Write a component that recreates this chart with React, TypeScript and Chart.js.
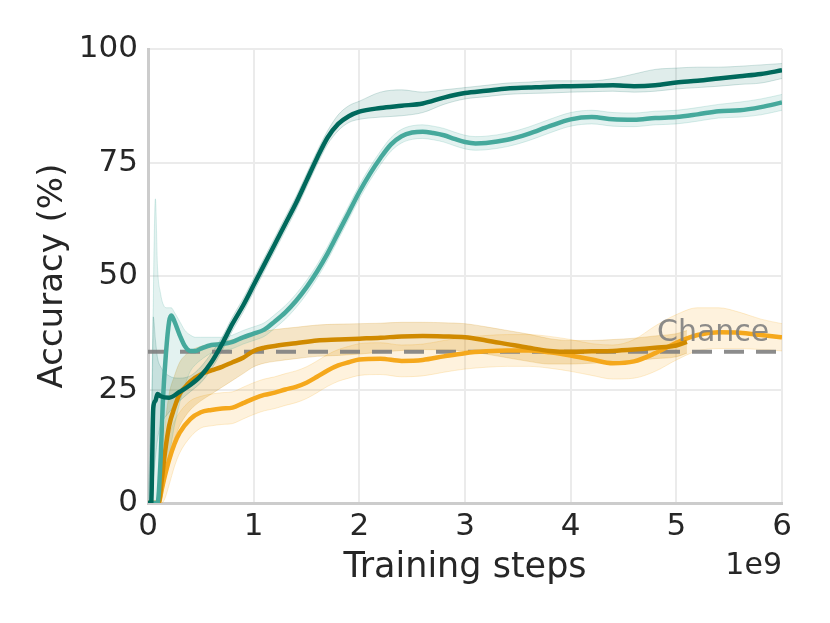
import React, { useEffect, useRef } from 'react';
import { Chart, ChartConfiguration, registerables } from 'chart.js';

Chart.register(...registerables);

// x values are training steps in units of 1e9
const tealDarkSteps = [0, 0.03, 0.05, 0.07, 0.09, 0.12, 0.2, 0.3, 0.4, 0.5, 0.6, 0.7, 0.8, 0.9, 1.0, 1.1, 1.2, 1.3, 1.4, 1.5, 1.6, 1.7, 1.8, 1.9, 2.0, 2.2, 2.4, 2.6, 2.8, 3.0, 3.2, 3.4, 3.6, 3.8, 4.0, 4.2, 4.4, 4.6, 4.8, 5.0, 5.2, 5.4, 5.6, 5.8, 6.0];
const tealDarkMean = [0, 0, 21, 22.5, 24, 23.5, 23.2, 24.5, 26, 28, 31, 35, 39.5, 43.5, 48, 52.5, 57, 61.5, 66, 71, 76, 80.5, 83.5, 85.2, 86.2, 87, 87.5, 88, 89.3, 90.3, 90.8, 91.3, 91.5, 91.7, 91.8, 91.9, 92, 91.8, 92, 92.6, 93, 93.5, 94, 94.5, 95.3];
const tealDarkLow = [0, 0, 5, 10, 14, 17, 20, 22.5, 24.5, 26.5, 29.5, 33.5, 38, 42, 46.5, 51, 55.5, 60, 64.5, 69.5, 74.5, 79, 82, 83.8, 84.5, 85, 85.3, 86, 87.8, 89, 89.5, 90, 90.2, 90.3, 90.5, 90.6, 90.7, 90.5, 90.7, 91.2, 91.5, 91.8, 92.2, 92.5, 93.5];
const tealDarkHigh = [0, 0, 41, 36, 32, 30, 28, 27.5, 28, 30, 33, 36.5, 41, 45, 49.5, 54, 58.5, 63, 67.5, 72.5, 77.5, 82, 85.5, 87.5, 88.5, 90.5, 91, 90.5, 91, 91.5, 92, 92.5, 92.7, 93, 93, 93, 93.5, 94.5, 95.5, 95.8, 96, 96, 96.2, 96.5, 96.8];

const tealLightSteps = [0, 0.04, 0.07, 0.09, 0.12, 0.14, 0.17, 0.2, 0.22, 0.25, 0.3, 0.35, 0.4, 0.45, 0.5, 0.6, 0.7, 0.8, 0.9, 1.0, 1.1, 1.2, 1.3, 1.4, 1.5, 1.6, 1.7, 1.8, 1.9, 2.0, 2.1, 2.2, 2.3, 2.4, 2.5, 2.6, 2.7, 2.8, 2.9, 3.0, 3.1, 3.2, 3.4, 3.6, 3.8, 4.0, 4.2, 4.4, 4.6, 4.8, 5.0, 5.2, 5.4, 5.6, 5.8, 6.0];
const tealLightMean = [0, 0, 0, 0, 10, 22, 33, 40, 41.3, 40, 37, 34.5, 33.5, 33.5, 34, 34.8, 35, 35.5, 36.5, 37.3, 38.2, 40, 42, 44.5, 47.5, 51, 55, 59.5, 64, 68.5, 72.5, 76, 79, 80.8, 81.6, 81.8, 81.5, 81, 80.2, 79.5, 79.2, 79.3, 80, 81.3, 83, 84.5, 85, 84.5, 84.4, 84.8, 85, 85.6, 86.3, 86.5, 87.2, 88.2];
const tealLightLow = [0, 0, 0, 0, 1, 3, 6, 10, 13, 17, 22, 26, 29, 30.5, 31.5, 33, 33.5, 34, 35, 35.8, 36.7, 38.5, 40.5, 43, 46, 49.5, 53.5, 58, 62.5, 67, 71, 74.5, 77.5, 79.3, 80.1, 80.3, 80, 79.5, 78.7, 78, 77.7, 77.8, 78.5, 79.8, 81.5, 83, 83.5, 83, 82.9, 83.3, 83.5, 84.1, 84.8, 85, 85.5, 86.5];
const tealLightHigh = [0, 30, 67, 52, 46, 44, 43, 43, 43, 42, 40, 38, 37, 36.5, 36.5, 36.5, 36.5, 37, 38, 38.8, 39.7, 41.5, 43.5, 46, 49, 52.5, 56.5, 61, 65.5, 70, 74, 77.5, 80.5, 82.3, 83.1, 83.3, 83, 82.5, 81.7, 81, 80.7, 80.8, 81.5, 82.8, 84.5, 86, 86.5, 86, 85.9, 86.3, 86.5, 87.1, 87.8, 88.3, 89, 90];

const orangeDarkSteps = [0, 0.1, 0.13, 0.16, 0.2, 0.25, 0.3, 0.35, 0.4, 0.5, 0.6, 0.7, 0.8, 0.9, 1.0, 1.1, 1.2, 1.4, 1.6, 1.8, 2.0, 2.2, 2.4, 2.6, 2.8, 3.0, 3.2, 3.4, 3.6, 3.8, 4.0, 4.2, 4.4, 4.6, 4.8, 5.0, 5.1];
const orangeDarkMean = [0, 0, 5, 11, 17, 21, 24, 25.5, 26.8, 28.3, 29.2, 30, 31, 32, 33.5, 34.2, 34.6, 35.2, 35.8, 36, 36.2, 36.4, 36.7, 36.8, 36.7, 36.5, 35.8, 35, 34.2, 33.5, 33.3, 33.4, 33.5, 33.8, 34.2, 34.7, 35.5];
const orangeDarkLow = [0, 0, 1, 5, 10, 14, 17, 19, 20.5, 22.5, 24, 25.5, 27, 28.5, 30, 30.8, 31.2, 31.8, 32.3, 32.5, 32.8, 33.2, 33.6, 33.8, 33.7, 33.5, 32.8, 32, 31.2, 30.6, 30.6, 30.8, 31, 31.4, 31.8, 32.2, 33];
const orangeDarkHigh = [0, 0, 9, 17, 24, 28, 31, 32.5, 33.5, 34.5, 35, 35.5, 36, 36.5, 37.3, 37.8, 38.2, 38.7, 39.2, 39.4, 39.5, 39.6, 39.8, 39.8, 39.7, 39.5, 38.8, 38, 37.2, 36.2, 35.8, 35.8, 36, 36.3, 36.8, 37.3, 38];

const orangeLightSteps = [0, 0.1, 0.13, 0.16, 0.2, 0.25, 0.3, 0.4, 0.5, 0.6, 0.7, 0.8, 0.9, 1.0, 1.1, 1.2, 1.3, 1.4, 1.5, 1.6, 1.7, 1.8, 1.9, 2.0, 2.2, 2.4, 2.6, 2.8, 3.0, 3.2, 3.4, 3.6, 3.8, 4.0, 4.2, 4.4, 4.6, 4.8, 5.0, 5.2, 5.4, 5.6, 5.8, 6.0];
const orangeLightMean = [0, 0, 3, 6, 9.5, 13, 15.5, 18.5, 20, 20.5, 20.8, 21, 22, 23, 23.8, 24.3, 25, 25.6, 26.5, 27.8, 29.2, 30.3, 31, 31.6, 31.8, 31.3, 31.5, 32.3, 33, 33.4, 33.6, 33.6, 33.2, 32.5, 31.6, 30.8, 31.2, 33, 35.3, 37, 37.6, 37.5, 37, 36.5];
const orangeLightLow = [0, 0, 0, 1, 4, 8, 11, 14.5, 16.5, 17, 17.3, 17.5, 18.5, 19.5, 20.3, 20.8, 21.5, 22.1, 23, 24.3, 25.7, 26.8, 27.5, 28.1, 28.3, 27.8, 28, 28.8, 29.5, 29.9, 30.1, 30.1, 29.7, 29, 28.1, 27.3, 27.5, 29, 31.5, 33.5, 34, 34, 33.8, 33.5];
const orangeLightHigh = [0, 0, 8, 12, 15, 18, 20, 22.5, 23.5, 24, 24.3, 24.5, 25.5, 26.5, 27.3, 27.8, 28.5, 29.1, 30, 31.3, 32.7, 33.8, 34.5, 35.1, 35.3, 34.8, 35, 35.8, 36.5, 36.9, 37.1, 37.1, 36.7, 36, 35.1, 34.8, 36, 39, 41.5, 43, 43, 42, 40.5, 39.5];

const chanceLevel = 33.3;
const chanceSteps = [0, 6];

const FONT = 'DejaVu Sans';
const TEXT = '#262626';

const pts = (xs: number[], ys: number[]) => xs.map((x, i) => ({ x, y: ys[i] }));

const mean = (label: string, xs: number[], ys: number[], color: string) => ({
  label,
  data: pts(xs, ys),
  borderColor: color,
  borderWidth: 4.5,
  pointRadius: 0,
  fill: false,
  cubicInterpolationMode: 'monotone' as const,
  order: 0,
});

const band = (label: string, xs: number[], lo: number[], hi: number[], edge: string, fillColor: string) => [
  {
    label: label + ' low',
    data: pts(xs, lo),
    borderColor: edge,
    borderWidth: 1,
    pointRadius: 0,
    fill: false,
    cubicInterpolationMode: 'monotone' as const,
    order: 2,
  },
  {
    label: label + ' high',
    data: pts(xs, hi),
    borderColor: edge,
    borderWidth: 1,
    pointRadius: 0,
    fill: '-1',
    backgroundColor: fillColor,
    cubicInterpolationMode: 'monotone' as const,
    order: 2,
  },
];

const textPlugin = {
  id: 'extraText',
  afterDraw(chart: Chart) {
    const { ctx, chartArea, scales } = chart;
    ctx.save();
    ctx.font = `30px "${FONT}"`;
    ctx.fillStyle = TEXT;
    ctx.textAlign = 'right';
    ctx.textBaseline = 'middle';
    ctx.fillText('1e9', chartArea.right, chartArea.bottom + 63);
    ctx.font = `30px "${FONT}"`;
    ctx.fillStyle = 'rgba(128,128,128,0.9)';
    ctx.fillText('Chance', scales.x.getPixelForValue(5.88), scales.y.getPixelForValue(37.4));
    ctx.restore();
  },
};

const App: React.FC = () => {
  const canvasRef = useRef<HTMLCanvasElement>(null);
  const chartRef = useRef<Chart | null>(null);

  useEffect(() => {
    if (!canvasRef.current) return;
    if (chartRef.current) chartRef.current.destroy();
    const ctx = canvasRef.current.getContext('2d');
    if (!ctx) return;

    const config: ChartConfiguration = {
      type: 'line',
      data: {
        datasets: [
          mean('Dark teal', tealDarkSteps, tealDarkMean, '#00695c'),
          mean('Light teal', tealLightSteps, tealLightMean, '#46a99c'),
          mean('Dark orange', orangeDarkSteps, orangeDarkMean, '#d08a00'),
          mean('Light orange', orangeLightSteps, orangeLightMean, '#f5a81c'),
          {
            label: 'Chance',
            data: chanceSteps.map((x) => ({ x, y: chanceLevel })),
            borderColor: 'rgba(128,128,128,0.9)',
            borderWidth: 4,
            borderDash: [20, 12],
            pointRadius: 0,
            fill: false,
            order: 1,
          },
          ...band('Dark teal', tealDarkSteps, tealDarkLow, tealDarkHigh, 'rgba(0,105,92,0.18)', 'rgba(0,105,92,0.12)'),
          ...band('Light teal', tealLightSteps, tealLightLow, tealLightHigh, 'rgba(70,169,156,0.2)', 'rgba(70,169,156,0.15)'),
          ...band('Dark orange', orangeDarkSteps, orangeDarkLow, orangeDarkHigh, 'rgba(208,138,0,0.2)', 'rgba(208,138,0,0.22)'),
          ...band('Light orange', orangeLightSteps, orangeLightLow, orangeLightHigh, 'rgba(245,168,28,0.2)', 'rgba(245,168,28,0.15)'),
        ] as any,
      },
      options: {
        responsive: true,
        maintainAspectRatio: false,
        animation: false,
        layout: { padding: { top: 49, right: 48, bottom: 0, left: 0 } },
        plugins: {
          legend: { display: false },
          tooltip: { enabled: false },
        },
        scales: {
          x: {
            type: 'linear',
            min: 0,
            max: 6,
            afterFit: (scale: any) => { scale.height = 120; },
            ticks: { stepSize: 1, color: TEXT, font: { family: FONT, size: 31 }, padding: 5 },
            grid: { color: '#ebebeb', lineWidth: 2, drawTicks: false },
            border: { color: '#cccccc', width: 3 },
            title: { display: true, text: 'Training steps', color: TEXT, font: { family: FONT, size: 35 }, padding: { top: 0, bottom: 34 } },
          },
          y: {
            type: 'linear',
            min: 0,
            max: 100,
            afterFit: (scale: any) => { scale.width = 148; },
            ticks: { stepSize: 25, color: TEXT, font: { family: FONT, size: 31 }, padding: 10 },
            grid: { color: '#ebebeb', lineWidth: 2, drawTicks: false },
            border: { color: '#cccccc', width: 3 },
            title: { display: true, text: 'Accuracy (%)', color: TEXT, font: { family: FONT, size: 34 }, padding: { top: 33, bottom: 0 } },
          },
        },
      },
      plugins: [textPlugin],
    };

    chartRef.current = new Chart(ctx, config);

    return () => {
      if (chartRef.current) {
        chartRef.current.destroy();
        chartRef.current = null;
      }
    };
  }, []);

  return (
    <div style={{ position: 'fixed', left: 0, top: 0, width: 830, height: 623, background: '#fff' }}>
      <canvas ref={canvasRef} aria-label="Accuracy chart" />
    </div>
  );
};

export default App;
